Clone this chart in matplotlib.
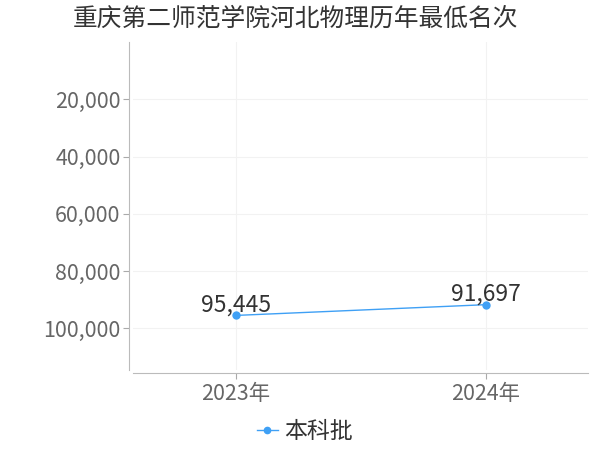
import matplotlib
matplotlib.use("Agg")
import matplotlib.pyplot as plt
from matplotlib.ticker import FuncFormatter

plt.rcParams['font.family'] = ['Noto Sans CJK SC', 'DejaVu Sans']

title = "重庆第二师范学院河北物理历年最低名次"
years = ["2023年", "2024年"]
ranks = [95445, 91697]
series_name = "本科批"
yticks = [20000, 40000, 60000, 80000, 100000]

fig = plt.figure(figsize=(6, 4.5), dpi=100)
ax = fig.add_axes([133/600, 1-370/450, (588-133)/600, (370-42)/450])

x = list(range(len(years)))
color = "#3fa0f5"
ax.plot(x, ranks, color=color, lw=1, marker='o', ms=5, label=series_name)
for xi, v in zip(x, ranks):
    ax.annotate(f"{v:,}", (xi, v), xytext=(0, -1), textcoords='offset points',
                ha='center', va='bottom', fontsize=16.4, color='#333333')

ax.set_xlim(-0.412, 1.408)
ax.set_ylim(114500, 0)
ax.set_xticks(x)
ax.set_xticklabels(years)
ax.set_yticks(yticks)
ax.yaxis.set_major_formatter(FuncFormatter(lambda v, p: f"{int(v):,}"))
ax.tick_params(axis='both', labelsize=15.4, colors='#aaaaaa', labelcolor='#666666', length=4)
ax.tick_params(axis='y', pad=2)
ax.tick_params(axis='x', pad=3)
ax.grid(True, color='#f2f2f2', lw=0.8)
ax.set_axisbelow(True)
for s in ['top', 'right']:
    ax.spines[s].set_visible(False)
ax.spines['left'].set_color('#bbbbbb')
ax.spines['bottom'].set_color('#bbbbbb')
ax.spines['left'].set_position(('outward', 3))
ax.spines['bottom'].set_position(('outward', 2))

fig.text(295/600, 1-19/450, title, ha='center', va='center', fontsize=17.8, color='#333333')
fig.legend(loc='center', bbox_to_anchor=(305/600, 1-432/450), frameon=False,
           fontsize=16.5, handlelength=0.9, handletextpad=0.3, markerscale=0.9,
           labelcolor='#333333')

fig.savefig("out.png", dpi=100)
